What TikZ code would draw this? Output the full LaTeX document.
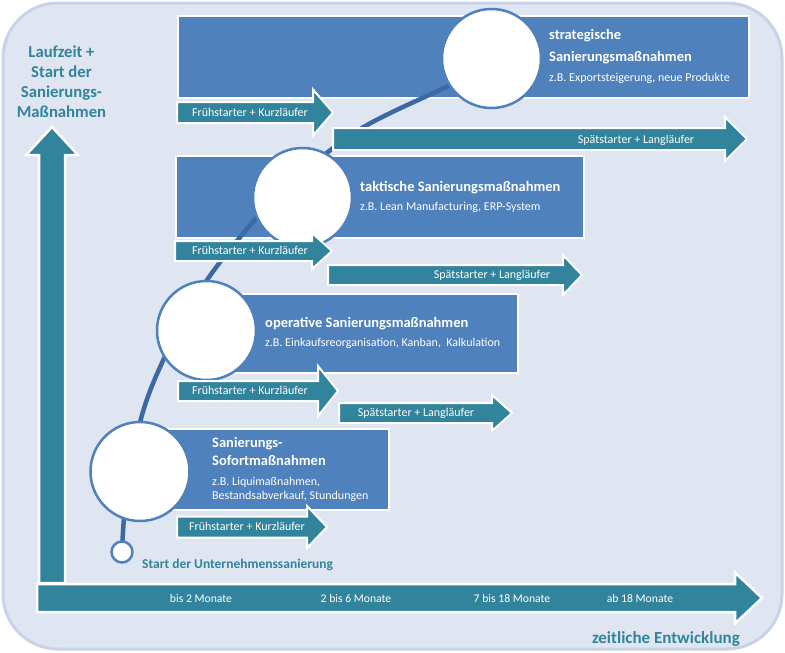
\documentclass[tikz,border=0pt]{standalone}
\usepackage{fontspec}
\setmainfont{Carlito}
\definecolor{bgfill}{HTML}{DFE6F1}
\definecolor{bgline}{HTML}{C9D3E6}
\definecolor{teal}{HTML}{31849B}
\definecolor{boxblue}{HTML}{4F81BD}
\definecolor{curveblue}{HTML}{3D69A3}
\newcommand{\blockarrow}[7]{%
  \draw[#7] (#1,{#4-#5}) -- (#2,{#4-#5}) -- (#2,{#4-#6}) -- (#3,#4) -- (#2,{#4+#6}) -- (#2,{#4+#5}) -- (#1,{#4+#5}) -- cycle;}
\begin{document}
\begin{tikzpicture}[x=1pt,y=-1pt,
  box/.style={draw=white, line width=2pt, fill=boxblue, anchor=north west, inner sep=0pt},
  tarrow/.style={draw=white, line width=2pt, fill=teal, line join=miter},
  axarrow/.style={draw=white, line width=2.5pt, fill=teal, line join=miter},
  bubble/.style={circle, draw=boxblue, line width=2.5pt, fill=white, minimum size=99pt, inner sep=0pt},
  curve/.style={draw=curveblue, line width=4.5pt},
  ttl/.style={font=\bfseries\fontsize{14.5}{17}\selectfont, text=white, anchor=base west, inner sep=0pt},
  sub/.style={font=\fontsize{12}{14}\selectfont, text=white, anchor=base west, inner sep=0pt},
  alabel/.style={font=\fontsize{12}{14}\selectfont, text=white, anchor=base, inner sep=0pt},
  axlabel/.style={font=\fontsize{11.7}{14}\selectfont, text=white, anchor=base, inner sep=0pt},
  tealbold/.style={font=\bfseries, text=teal, inner sep=0pt}
]
\useasboundingbox (0,0) rectangle (785,653);
\fill[white] (0,0) rectangle (785,653);
\draw[fill=bgfill, draw=bgline, line width=3pt, rounded corners=55pt] (3,3) rectangle (782,649);

% axes
\draw[axarrow] (39,583) -- (39,155) -- (26,155) -- (52,127) -- (78,155) -- (65,155) -- (65,583) -- cycle;
\blockarrow{37}{735}{762}{598}{14}{25.5}{axarrow}

% boxes
\node[box, minimum width=571pt, minimum height=82pt] (b1) at (177,15) {};
\node[box, minimum width=408pt, minimum height=82pt] (b2) at (175,155) {};
\node[box, minimum width=317pt, minimum height=79pt] (b3) at (200,293) {};
\node[box, minimum width=238pt, minimum height=81pt] (b4) at (150,428) {};

% circles (positions)
\coordinate (p0) at (122,552);
\coordinate (pf) at (140,471.5);
\coordinate (po) at (206.5,330.5);
\coordinate (pt) at (302.5,197.5);
\coordinate (ps) at (491.5,58.5);

% curve
\draw[curve] plot[smooth, tension=0.55] coordinates {(p0) (126,500) (142,415) (168,350) (205,283) (253,222) (300,175) (362,128) (440,90) (480,72)};

% bubbles
\node[bubble] (cs) at (ps) {};
\node[bubble] (ct) at (pt) {};
\node[bubble] (co) at (po) {};
\node[bubble] (cf) at (pf) {};
\node[circle, draw=boxblue, line width=2.5pt, fill=white, minimum size=21pt, inner sep=0pt] (c0) at (p0) {};

% small arrows
\blockarrow{177}{313}{333}{112.5}{10.5}{23}{tarrow}
\blockarrow{333}{725}{747}{139}{11}{22}{tarrow}
\blockarrow{175}{312}{332}{251}{10}{18}{tarrow}
\blockarrow{328}{563}{582}{275}{10}{20}{tarrow}
\blockarrow{178}{318}{338}{391}{10}{25}{tarrow}
\blockarrow{339}{492}{512}{413}{10}{18}{tarrow}
\blockarrow{177}{307}{327}{527}{10.5}{21}{tarrow}

\node[alabel] (l1) at (250,116.3) {Frühstarter + Kurzläufer};
\node[alabel] (l2) at (636,143.8) {Spätstarter + Langläufer};
\node[alabel] (l3) at (250,254.8) {Frühstarter + Kurzläufer};
\node[alabel] (l4) at (492,278.8) {Spätstarter + Langläufer};
\node[alabel] (l5) at (250,394.8) {Frühstarter + Kurzläufer};
\node[alabel] (l6) at (416,416.8) {Spätstarter + Langläufer};
\node[alabel] (l7) at (247,530.8) {Frühstarter + Kurzläufer};

% box texts
\node[ttl] (t1a) at (549,39.5) {strategische};
\node[ttl] (t1b) at (549,61.5) {Sanierungsmaßnahmen};
\node[sub] (t1c) at (549,81.7) {z.B. Exportsteigerung, neue Produkte};

\node[ttl] (t2a) at (360,191.5) {taktische Sanierungsmaßnahmen};
\node[sub] (t2b) at (360,210.7) {z.B. Lean Manufacturing, ERP-System};

\node[ttl] (t3a) at (265,327.5) {operative Sanierungsmaßnahmen};
\node[sub] (t3b) at (265,346.7) {z.B. Einkaufsreorganisation, Kanban,\ \ Kalkulation};

\node[ttl] (t4a) at (212,447.5) {Sanierungs-};
\node[ttl] (t4b) at (212,465.5) {Sofortmaßnahmen};
\node[sub] (t4c) at (212,485.7) {z.B. Liquimaßnahmen,};
\node[sub] (t4d) at (212,499.7) {Bestandsabverkauf, Stundungen};

% axis labels
\node[axlabel] (m1) at (201,602.6) {bis 2 Monate};
\node[axlabel] (m2) at (356,602.6) {2 bis 6 Monate};
\node[axlabel] (m3) at (512,602.6) {7 bis 18 Monate};
\node[axlabel] (m4) at (640,602.6) {ab 18 Monate};

% teal labels
\begin{scope}[every node/.style={tealbold, font=\bfseries\fontsize{16.7}{20}\selectfont, anchor=base}]
\node (y1) at (61.5,57.3) {Laufzeit +};
\node (y2) at (61.5,77.3) {Start der};
\node (y3) at (61.5,97.3) {Sanierungs-};
\node (y4) at (61.5,117.3) {Maßnahmen};
\end{scope}
\node[tealbold, font=\bfseries\fontsize{17}{20}\selectfont, anchor=base east] (xl) at (740,643.2) {zeitliche Entwicklung};
\node[tealbold, font=\bfseries\fontsize{13.5}{16}\selectfont, anchor=base west] (sl) at (142,568.2) {Start der Unternehmenssanierung};
\end{tikzpicture}
\end{document}
